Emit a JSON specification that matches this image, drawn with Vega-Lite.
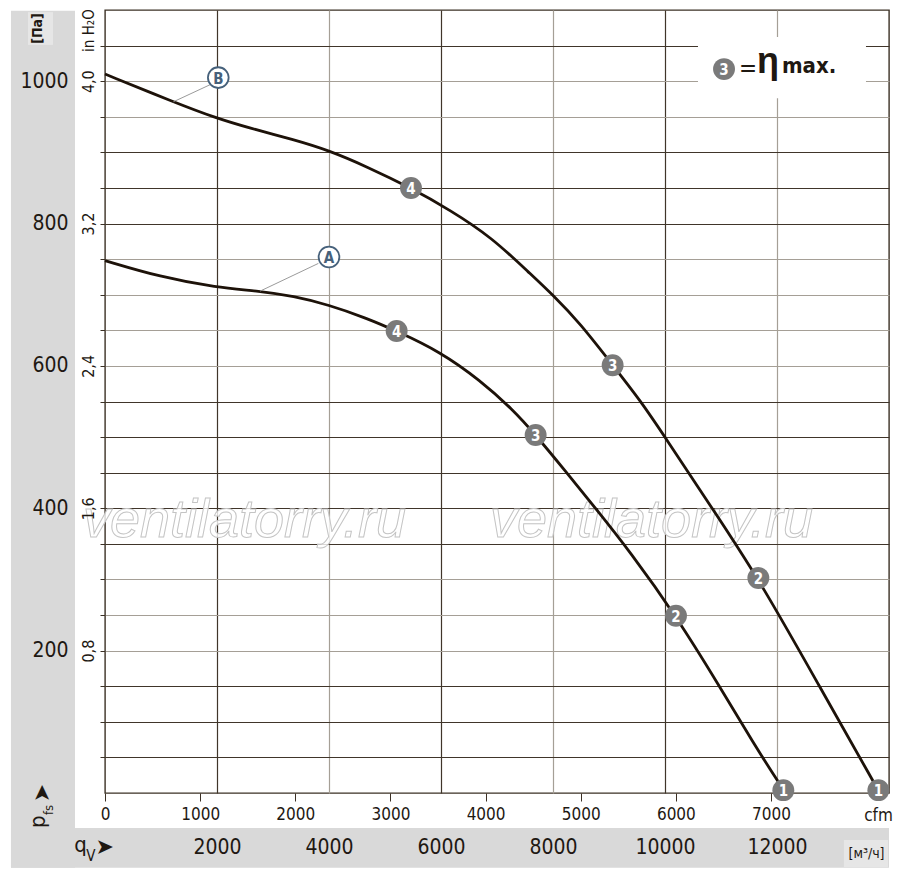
{
  "$schema": "https://vega.github.io/schema/vega-lite/v6.json",
  "width": 784,
  "height": 783,
  "autosize": {"type": "none"},
  "padding": {"left": 105, "top": 10, "right": 11, "bottom": 88},
  "background": "white",
  "datasets": {
    "bands": [
      {"q": -1679, "q2": -536, "p": 1099, "p2": -105},
      {"q": -1679, "q2": 14000, "p": -49, "p2": -105}
    ],
    "boxes": [
      {"q": -1375, "q2": -929, "p": 1097, "p2": 1051},
      {"q": 13196, "q2": 13982, "p": -66, "p2": -104}
    ],
    "legendBox": [
      {"q": 10589, "q2": 13589, "p": 976, "p2": 1062}
    ],
    "watermark": [
      {"q": -393, "p": 360, "t": "ventilatorry.ru"},
      {"q": 6875, "p": 360, "t": "ventilatorry.ru"}
    ],
    "curves": [
      {"curve": "B", "q": 0, "p": 1010},
      {"curve": "B", "q": 1220, "p": 971},
      {"curve": "B", "q": 1988, "p": 948},
      {"curve": "B", "q": 2589, "p": 934},
      {"curve": "B", "q": 3363, "p": 918},
      {"curve": "B", "q": 3988, "p": 903},
      {"curve": "B", "q": 4673, "p": 880},
      {"curve": "B", "q": 5464, "p": 850},
      {"curve": "B", "q": 6161, "p": 819},
      {"curve": "B", "q": 6900, "p": 781},
      {"curve": "B", "q": 7600, "p": 729},
      {"curve": "B", "q": 7994, "p": 700},
      {"curve": "B", "q": 8482, "p": 660},
      {"curve": "B", "q": 9065, "p": 601},
      {"curve": "B", "q": 9554, "p": 552},
      {"curve": "B", "q": 10000, "p": 500},
      {"curve": "B", "q": 10800, "p": 405},
      {"curve": "B", "q": 11667, "p": 302},
      {"curve": "B", "q": 12700, "p": 158},
      {"curve": "B", "q": 13800, "p": 5},
      {"curve": "A", "q": 0, "p": 748},
      {"curve": "A", "q": 982, "p": 725},
      {"curve": "A", "q": 1988, "p": 710},
      {"curve": "A", "q": 2768, "p": 705},
      {"curve": "A", "q": 3363, "p": 698},
      {"curve": "A", "q": 3988, "p": 686},
      {"curve": "A", "q": 4673, "p": 667},
      {"curve": "A", "q": 5208, "p": 649},
      {"curve": "A", "q": 5982, "p": 620},
      {"curve": "A", "q": 6696, "p": 580},
      {"curve": "A", "q": 7292, "p": 538},
      {"curve": "A", "q": 7690, "p": 503},
      {"curve": "A", "q": 8214, "p": 453},
      {"curve": "A", "q": 8780, "p": 398},
      {"curve": "A", "q": 9375, "p": 339},
      {"curve": "A", "q": 10196, "p": 249},
      {"curve": "A", "q": 10982, "p": 149},
      {"curve": "A", "q": 11577, "p": 70},
      {"curve": "A", "q": 12110, "p": 5}
    ],
    "markers": [
      {"q": 5464, "p": 850, "n": "4"},
      {"q": 9065, "p": 601, "n": "3"},
      {"q": 11667, "p": 302, "n": "2"},
      {"q": 13810, "p": 4, "n": "1"},
      {"q": 5208, "p": 649, "n": "4"},
      {"q": 7690, "p": 503, "n": "3"},
      {"q": 10196, "p": 249, "n": "2"},
      {"q": 12113, "p": 4, "n": "1"},
      {"q": 11054, "p": 1017, "n": "3"}
    ],
    "leaders": [
      {"q": 1220, "p": 971, "q2": 1875, "p2": 995},
      {"q": 2768, "p": 705, "q2": 3810, "p2": 744}
    ],
    "letters": [
      {"q": 2023, "p": 1005, "t": "B"},
      {"q": 4000, "p": 753, "t": "A"}
    ]
  },
  "encoding": {
    "x": {"field": "q", "type": "quantitative", "scale": {"domain": [0, 14000], "nice": false, "zero": false}, "axis": null},
    "y": {"field": "p", "type": "quantitative", "scale": {"domain": [0, 1100], "nice": false, "zero": false}, "axis": null}
  },
  "resolve": {"axis": {"x": "independent", "y": "independent"}},
  "layer": [
    {
      "data": {"name": "bands"},
      "mark": {"type": "rect", "color": "#d9d9d9"},
      "encoding": {
        "x": {
          "field": "q", "type": "quantitative",
          "scale": {"domain": [0, 14000], "nice": false, "zero": false},
          "axis": {
            "orient": "bottom", "values": [2000, 4000, 6000, 8000, 10000, 12000], "format": "d",
            "grid": false, "ticks": false, "domain": false,
            "labelPadding": 54, "labelBaseline": "middle", "labelFontSize": 21,
            "labelFlush": false, "labelOverlap": false,
            "title": "[м³/ч]", "titleX": 761, "titleY": 60, "titleAlign": "center", "titleBaseline": "middle",
            "titleFontSize": 14, "titleFontWeight": "normal", "zindex": 1
          }
        },
        "x2": {"field": "q2"},
        "y": {
          "field": "p", "type": "quantitative",
          "scale": {"domain": [0, 1100], "nice": false, "zero": false},
          "axis": {
            "orient": "left", "values": [200, 400, 600, 800, 1000], "format": "d",
            "grid": false, "ticks": false, "domain": false,
            "labelPadding": 37, "labelAlign": "right", "labelBaseline": "middle", "labelFontSize": 21,
            "labelFlush": false, "labelOverlap": false,
            "title": "[Па]", "titleX": -68, "titleY": 18, "titleAngle": -90, "titleAlign": "center", "titleBaseline": "middle",
            "titleFontSize": 14, "titleFontWeight": "bold", "zindex": 1
          }
        },
        "y2": {"field": "p2"}
      }
    },
    {
      "data": {"name": "boxes"},
      "mark": {"type": "rect", "color": "#e6e6e6"},
      "encoding": {"x2": {"field": "q2"}, "y2": {"field": "p2"}}
    },
    {
      "data": {"name": "legendBox"},
      "mark": {"type": "rect", "color": "white"},
      "encoding": {"x2": {"field": "q2"}, "y2": {"field": "p2"}}
    },
    {
      "data": {"name": "watermark"},
      "mark": {"type": "text", "align": "left", "baseline": "alphabetic", "font": "Liberation Sans", "fontStyle": "italic", "fontSize": 54, "fill": "white", "fillOpacity": 0.8, "stroke": "#c4c4c4", "strokeWidth": 1},
      "encoding": {"text": {"field": "t"}}
    },
    {
      "data": {"name": "curves"},
      "mark": {"type": "line", "color": "#1d1209", "strokeWidth": 2.8, "interpolate": "basis"},
      "encoding": {
        "x": {
          "field": "q", "type": "quantitative",
          "scale": {"domain": [0, 14000], "nice": false, "zero": false},
          "axis": {
            "orient": "bottom", "values": [2000, 4000, 6000, 8000, 10000, 12000],
            "grid": true, "gridWidth": 1.2,
            "gridColor": {"condition": {"test": "datum.value % 4000 === 0", "value": "#a59f96"}, "value": "#40352a"},
            "labels": false, "ticks": false, "domain": false, "title": null, "zindex": 0
          }
        },
        "y": {
          "field": "p", "type": "quantitative",
          "scale": {"domain": [0, 1100], "nice": false, "zero": false},
          "axis": {
            "orient": "left", "values": [50, 100, 150, 200, 250, 300, 350, 400, 450, 500, 550, 600, 650, 700, 750, 800, 850, 900, 950, 1000, 1050],
            "grid": true, "gridWidth": 1.2,
            "gridColor": {"condition": {"test": "indexof([200, 250, 300, 600, 650, 700, 750, 950, 1000], datum.value) >= 0", "value": "#a59f96"}, "value": "#40352a"},
            "labels": false, "ticks": false, "domain": false, "title": null, "zindex": 0
          }
        },
        "detail": {"field": "curve"}
      }
    },
    {
      "data": {"name": "leaders"},
      "mark": {"type": "rule", "color": "#8e8e8e", "strokeWidth": 0.9},
      "encoding": {"x2": {"field": "q2"}, "y2": {"field": "p2"}}
    },
    {
      "data": {"name": "markers"},
      "mark": {"type": "circle", "size": 480, "color": "#7a7a7a", "opacity": 1},
      "encoding": {
        "x": {
          "field": "q", "type": "quantitative",
          "scale": {"domain": [0, 14000], "nice": false, "zero": false},
          "axis": {
            "orient": "bottom", "values": [0, 1699.01, 3398.02, 5097.03, 6796.04, 8495.05, 10194.06, 11893.07],
            "labelExpr": "format(datum.value / 1.69901, '.0f')",
            "grid": false, "ticks": true, "tickSize": 8, "tickColor": "#3b3025", "tickWidth": 1, "domain": false,
            "labelPadding": 13, "labelBaseline": "middle", "labelFontSize": 17,
            "labelFlush": false, "labelOverlap": false,
            "title": "cfm", "titleX": 773, "titleY": 22, "titleAlign": "center", "titleBaseline": "middle",
            "titleFontSize": 17, "titleFontWeight": "normal", "zindex": 1
          }
        },
        "y": {
          "field": "p", "type": "quantitative",
          "scale": {"domain": [0, 1100], "nice": false, "zero": false},
          "axis": {
            "orient": "left", "values": [50, 100, 150, 200, 250, 300, 350, 400, 450, 500, 550, 600, 650, 700, 750, 800, 850, 900, 950, 1000, 1050],
            "labelExpr": "datum.value % 200 === 0 ? replace(format(datum.value / 250, '.1f'), '.', ',') : ''",
            "grid": false, "ticks": true, "tickSize": 5, "tickColor": "#3b3025", "tickWidth": 1, "domain": false,
            "labelAngle": -90, "labelAlign": "center", "labelBaseline": "bottom", "labelPadding": 4, "labelFontSize": 16,
            "labelFlush": false, "labelOverlap": false,
            "title": "in H₂O", "titleX": -17, "titleY": 20, "titleAngle": -90, "titleAlign": "center", "titleBaseline": "middle",
            "titleFontSize": 15, "titleFontWeight": "normal", "zindex": 1
          }
        }
      }
    },
    {
      "data": {"name": "markers"},
      "mark": {"type": "text", "color": "white", "fontWeight": "bold", "fontSize": 15, "align": "center", "baseline": "middle", "dy": 1},
      "encoding": {"text": {"field": "n"}}
    },
    {
      "data": {"name": "letters"},
      "mark": {"type": "circle", "size": 430, "filled": true, "fill": "white", "stroke": "#46617b", "strokeWidth": 1.8, "opacity": 1},
      "encoding": {}
    },
    {
      "data": {"name": "letters"},
      "mark": {"type": "text", "color": "#46617b", "fontWeight": "bold", "fontSize": 15, "align": "center", "baseline": "middle", "dy": 1},
      "encoding": {"text": {"field": "t"}}
    },
    {
      "data": {"values": [{"q": 11482, "p": 1017, "t": "="}]},
      "mark": {"type": "text", "color": "#1e1812", "fontSize": 24, "align": "center", "baseline": "middle"},
      "encoding": {"text": {"field": "t"}}
    },
    {
      "data": {"values": [{"q": 11643, "p": 1011, "t": "η"}]},
      "mark": {"type": "text", "color": "#1e1812", "font": "Liberation Sans", "fontWeight": "bold", "fontSize": 36, "align": "left", "baseline": "alphabetic"},
      "encoding": {"text": {"field": "t"}}
    },
    {
      "data": {"values": [{"q": 12089, "p": 1011, "t": "max."}]},
      "mark": {"type": "text", "color": "#1e1812", "fontWeight": "bold", "fontSize": 22, "align": "left", "baseline": "alphabetic"},
      "encoding": {"text": {"field": "t"}}
    },
    {
      "data": {"values": [{"q": -550, "p": -83, "t": "q"}]},
      "mark": {"type": "text", "color": "#1e1812", "fontSize": 22, "align": "left", "baseline": "alphabetic"},
      "encoding": {"text": {"field": "t"}}
    },
    {
      "data": {"values": [{"q": -335, "p": -95, "t": "V"}]},
      "mark": {"type": "text", "color": "#1e1812", "fontSize": 15, "align": "left", "baseline": "alphabetic"},
      "encoding": {"text": {"field": "t"}}
    },
    {
      "data": {"values": [{"q": -170, "p": -76, "t": "➤"}]},
      "mark": {"type": "text", "color": "#1e1812", "font": "DejaVu Sans", "fontSize": 22, "align": "left", "baseline": "middle"},
      "encoding": {"text": {"field": "t"}}
    },
    {
      "data": {"values": [{"q": -1071, "p": -49, "t": "p"}]},
      "mark": {"type": "text", "color": "#1e1812", "fontSize": 22, "angle": 270, "align": "left", "baseline": "alphabetic"},
      "encoding": {"text": {"field": "t"}}
    },
    {
      "data": {"values": [{"q": -929, "p": -31, "t": "fs"}]},
      "mark": {"type": "text", "color": "#1e1812", "fontSize": 13, "angle": 270, "align": "left", "baseline": "alphabetic"},
      "encoding": {"text": {"field": "t"}}
    },
    {
      "data": {"values": [{"q": -1125, "p": 0, "t": "➤"}]},
      "mark": {"type": "text", "color": "#1e1812", "font": "DejaVu Sans", "fontSize": 22, "angle": 270, "align": "center", "baseline": "middle"},
      "encoding": {"text": {"field": "t"}}
    }
  ],
  "config": {
    "view": {"stroke": "#3b3025", "strokeWidth": 1.4},
    "font": "Liberation Sans Narrow, DejaVu Sans Condensed, Arial Narrow, Roboto, sans-serif",
    "axis": {
      "labelFont": "Liberation Sans Narrow, DejaVu Sans Condensed, Arial Narrow, Roboto, sans-serif",
      "titleFont": "Liberation Sans Narrow, DejaVu Sans Condensed, Arial Narrow, Roboto, sans-serif",
      "labelColor": "#1e1812",
      "titleColor": "#1e1812"
    },
    "text": {"font": "Liberation Sans Narrow, DejaVu Sans Condensed, Arial Narrow, Roboto, sans-serif"}
  }
}
